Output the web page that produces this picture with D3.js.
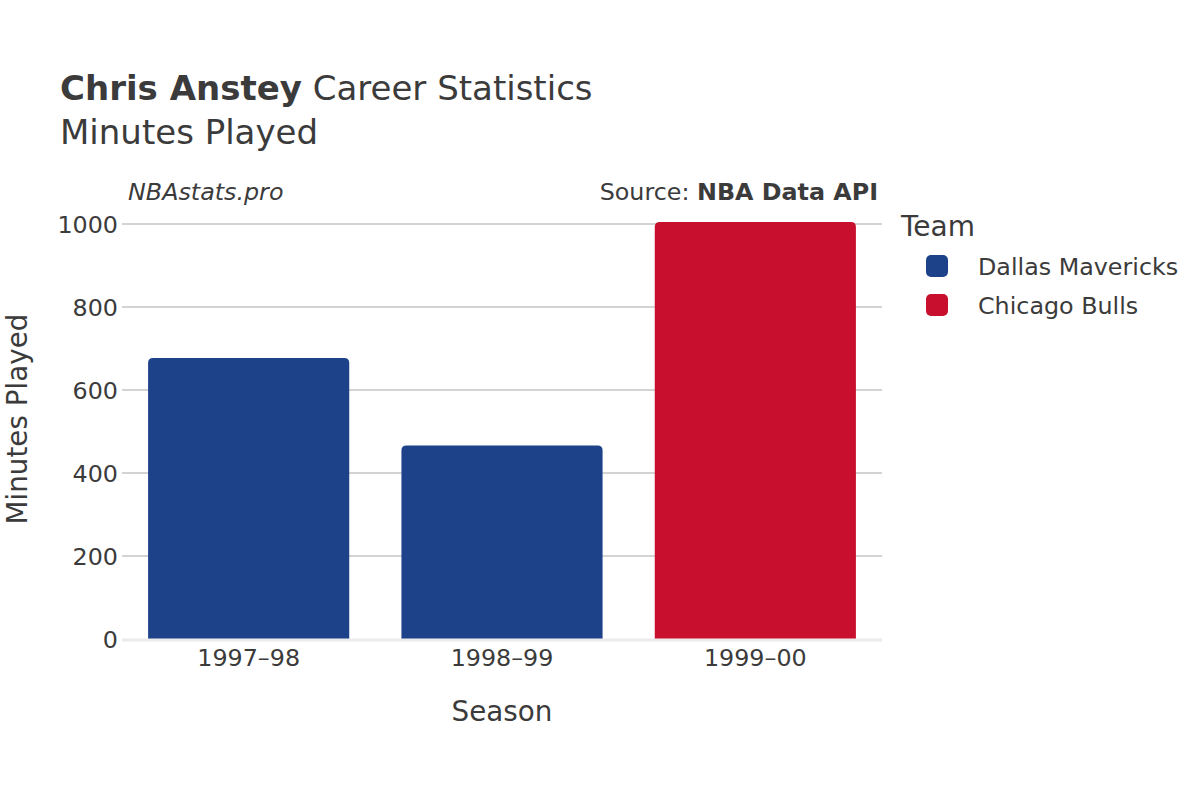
<!DOCTYPE html>
<html><head><meta charset="utf-8">
<script src="https://cdn.jsdelivr.net/npm/d3@7"></script>
<style>body{margin:0;background:#fff}svg{font-family:"DejaVu Sans",sans-serif}</style>
</head><body>
<svg id="c" width="1200" height="800"></svg>
<script>
const seasons = ["1997\u201398", "1998\u201399", "1999\u201300"];
const minutes = [677, 466, 1005];
const teams = ["Dallas Mavericks", "Dallas Mavericks", "Chicago Bulls"];
const legendTeams = ["Dallas Mavericks", "Chicago Bulls"];
const teamColors = ["#1D428A", "#C8102E"];
const yTicks = [0, 200, 400, 600, 800, 1000];

const svg = d3.select("#c");
const textCol = "#3b3b3b";
const left = 122, right = 882, y0px = 639, y1000px = 224;
const x = d3.scaleBand().domain(seasons).range([left, right]).paddingInner(0.206).paddingOuter(0.103);
const y = d3.scaleLinear().domain([0, 1000]).range([y0px, y1000px]);
const color = d3.scaleOrdinal().domain(legendTeams).range(teamColors);

// gridlines
svg.append("g").selectAll("line").data(yTicks.filter(d => d > 0)).join("line")
  .attr("x1", left).attr("x2", right).attr("y1", d => y(d)).attr("y2", d => y(d))
  .attr("stroke", "#a8a8a8").attr("stroke-width", 1.2);

// bars with rounded top corners
const r = 5;
svg.append("g").selectAll("path").data(seasons).join("path")
  .attr("d", (s, i) => {
    const bx = x(s), bw = x.bandwidth(), top = y(minutes[i]), bot = y(0);
    return `M${bx},${bot} L${bx},${top + r} Q${bx},${top} ${bx + r},${top} L${bx + bw - r},${top} Q${bx + bw},${top} ${bx + bw},${top + r} L${bx + bw},${bot} Z`;
  })
  .attr("fill", (s, i) => color(teams[i]));

// zero line
svg.append("line").attr("x1", left).attr("x2", right).attr("y1", y(0) + 1).attr("y2", y(0) + 1)
  .attr("stroke", "#ebebeb").attr("stroke-width", 3);

// y tick labels
svg.append("g").selectAll("text").data(yTicks).join("text")
  .attr("x", 118).attr("y", d => y(d)).attr("dy", "0.36em").attr("text-anchor", "end")
  .attr("font-size", 23.8).attr("fill", textCol).text(d => d);

// x tick labels
svg.append("g").selectAll("text").data(seasons).join("text")
  .attr("x", d => x(d) + x.bandwidth() / 2).attr("y", 666).attr("text-anchor", "middle")
  .attr("font-size", 23.8).attr("fill", textCol).text(d => d);

// axis titles
svg.append("text").attr("x", 502).attr("y", 721).attr("text-anchor", "middle")
  .attr("font-size", 27.8).attr("fill", textCol).text("Season");
svg.append("text").attr("transform", "translate(27,419) rotate(-90)").attr("text-anchor", "middle")
  .attr("font-size", 27.8).attr("fill", textCol).text("Minutes Played");

// titles
const t = svg.append("text").attr("x", 60).attr("y", 100).attr("font-size", 34).attr("fill", textCol);
t.append("tspan").attr("font-weight", "bold").text("Chris Anstey");
t.append("tspan").text(" Career Statistics");
svg.append("text").attr("x", 60).attr("y", 144).attr("font-size", 34).attr("fill", textCol).text("Minutes Played");

svg.append("text").attr("x", 128).attr("y", 200).attr("font-size", 23.8).attr("font-style", "italic")
  .attr("fill", textCol).text("NBAstats.pro");
const s = svg.append("text").attr("x", 878).attr("y", 200).attr("text-anchor", "end").attr("font-size", 23.8).attr("fill", textCol);
s.append("tspan").text("Source: ");
s.append("tspan").attr("font-weight", "bold").text("NBA Data API");

// legend
svg.append("text").attr("x", 901).attr("y", 236).attr("font-size", 28).attr("fill", textCol).text("Team");
const lg = svg.append("g").selectAll("g").data(legendTeams).join("g")
  .attr("transform", (d, i) => `translate(926,${255 + i * 39})`);
lg.append("rect").attr("width", 22).attr("height", 22).attr("rx", 5).attr("fill", d => color(d));
lg.append("text").attr("x", 52).attr("y", 11).attr("dy", "0.36em").attr("font-size", 23.8).attr("fill", textCol).text(d => d);
</script>
</body></html>
